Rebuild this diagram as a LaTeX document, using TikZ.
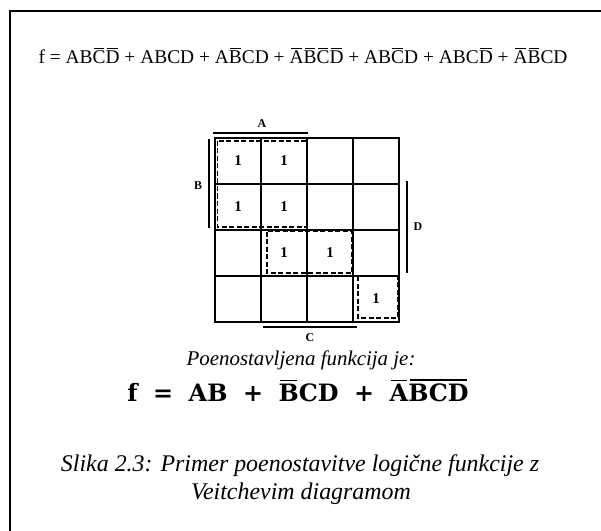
\documentclass[tikz,border=0pt]{standalone}
\usepackage{fontspec}
\setmainfont{Liberation Serif}
\newfontfamily\boldserif{DejaVu Serif}
\newsavebox\nbbox
% overlined letter(s)
\newcommand{\nb}[1]{\sbox\nbbox{#1}\rlap{\kern0.06em\rule[\dimexpr\ht\nbbox+0.1em\relax]{\dimexpr\wd\nbbox-0.12em\relax}{0.07em}}\usebox\nbbox}
\newcommand{\gap}{\hspace{0.65em}}
\tikzset{
  gridline/.style={line width=1.8bp},
  grp/.style={line width=1.8bp, dash pattern=on 5bp off 2.5bp},
  bar/.style={line width=1.8bp},
  onebit/.style={font=\bfseries\fontsize{15}{17}\selectfont},
  varlabel/.style={font=\bfseries\fontsize{12}{14}\selectfont}
}
\begin{document}
\begin{tikzpicture}[x=1bp, y=-1bp]
  \useasboundingbox (0,0) rectangle (601,531);
  % frame
  \draw[line width=2.2bp] (10,531) -- (10,11) -- (601,11);
  % given function
  \node[anchor=base] (ftop) at (303,64) {\fontsize{19.5}{23}\selectfont
    f = AB\nb{C}\nb{D} + ABCD + A\nb{B}CD + \nb{A}\nb{B}\nb{C}\nb{D} + AB\nb{C}D + ABC\nb{D} + \nb{A}\nb{B}CD};
  % Veitch diagram
  \draw[gridline] (215,138) rectangle (399,322);
  \foreach \i in {1,2,3} {
    \draw[gridline] ({215+46*\i},138) -- ({215+46*\i},322);
    \draw[gridline] (215,{138+46*\i}) -- (399,{138+46*\i});
  }
  \foreach \r/\c in {1/1,1/2,2/1,2/2,3/2,3/3,4/4}
    \node[onebit] (one\r\c) at ({215+46*(\c-0.5)},{138+46*(\r-0.5)}) {1};
  \draw[grp] (217.5,141) rectangle (307,227);
  \draw[grp] (267,231.5) rectangle (352,273);
  \draw[grp] (358,276) rectangle (397.5,318);
  % variable bars
  \draw[bar] (213,133) -- (308,133);
  \node[varlabel] (labA) at (262,124) {A};
  \draw[bar] (209,139) -- (209,228);
  \node[varlabel] (labB) at (198,186) {B};
  \draw[bar] (407,181) -- (407,273);
  \node[varlabel] (labD) at (418,227) {D};
  \draw[bar] (263,327) -- (357,327);
  \node[varlabel] (labC) at (310,338) {C};
  % result
  \node[anchor=base] (poen) at (301,365) {\itshape\fontsize{21}{25}\selectfont Poenostavljena funkcija je:};
  \node[anchor=base] (fsimp) at (298,401) {\boldserif\bfseries\fontsize{24}{28}\selectfont
    f\gap=\gap AB\gap+\gap\nb{B}CD\gap+\gap\nb{A}\nb{BCD}};
  % caption
  \node[anchor=base] (cap1) at (300,471) {\itshape\fontsize{24}{28}\selectfont Slika 2.3: Primer poenostavitve logične funkcije z};
  \node[anchor=base] (cap2) at (301,499) {\itshape\fontsize{24}{28}\selectfont Veitchevim diagramom};
\end{tikzpicture}
\end{document}
